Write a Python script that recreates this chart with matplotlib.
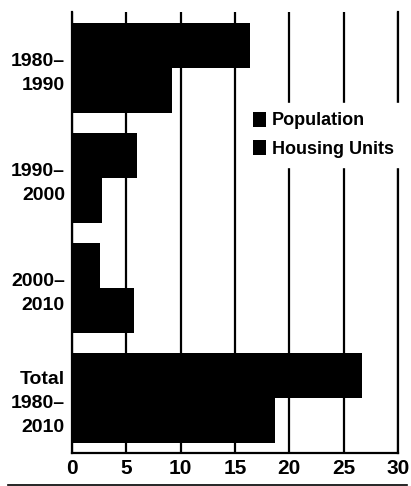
import matplotlib.pyplot as plt
import matplotlib.lines as mlines
import numpy as np

# decades and growth (percent)
periods = ["1980–\n1990", "1990–\n2000", "2000–\n2010", "Total\n1980–\n2010"]
population = [16.4, 6.0, 2.6, 26.7]
housing = [9.2, 2.8, 5.7, 18.7]

plt.rcParams['font.family'] = ['Liberation Sans', 'DejaVu Sans']
plt.rcParams['font.weight'] = 'bold'

fig = plt.figure(figsize=(4.11, 4.86), dpi=100)
ax = fig.add_axes([0.175, 0.068, 0.793, 0.907])

y = np.arange(len(periods))
h = 0.41
ax.barh(y - h/2, population, height=h, color='black', label='Population', zorder=3)
ax.barh(y + h/2, housing, height=h, color='black', label='Housing Units', zorder=3)

ax.set_xlim(0, 30)
ax.set_ylim(3.5, -0.51)
ax.set_xticks(range(0, 31, 5))
ax.set_yticks(y)
ax.set_yticklabels(periods, ha='right', linespacing=1.55)
ax.tick_params(length=0, labelsize=14, pad=4)
ax.tick_params(axis='y', pad=5)
for t in ax.get_xticklabels():
    t.set_fontsize(15)

ax.grid(axis='x', color='black', linewidth=1.6, zorder=1)
ax.spines['top'].set_visible(False)
for s in ['left', 'bottom', 'right']:
    ax.spines[s].set_linewidth(1.6)

leg = ax.legend(loc='upper left', bbox_to_anchor=(0.50, 0.815), frameon=True,
                fancybox=False, framealpha=1, edgecolor='white', facecolor='white',
                handlelength=0.75, handleheight=0.9, handletextpad=0.3,
                labelspacing=0.6, borderpad=0.5, prop={'size': 13, 'weight': 'bold'})
leg.set_zorder(4)

fig.add_artist(mlines.Line2D([0.02, 0.99], [0.003, 0.003], color='black', linewidth=1.2))

fig.savefig('out.png', dpi=100)
